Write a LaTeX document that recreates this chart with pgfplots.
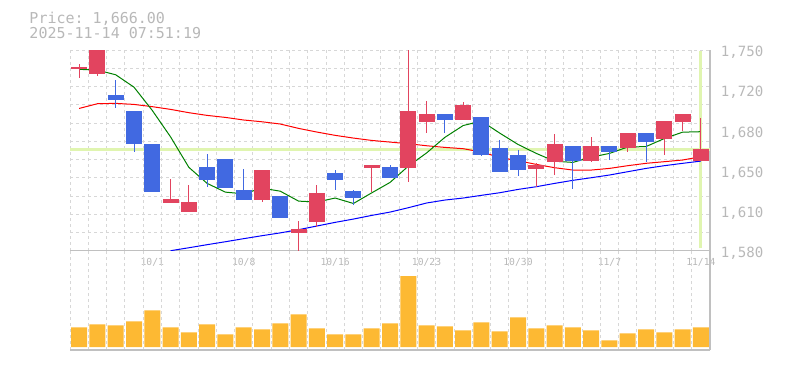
\documentclass[border=0pt]{standalone}
\usepackage{pgfplots}
\pgfplotsset{compat=1.18}
\usepackage{pgfplotstable}
\usepackage{fontspec}
\setmonofont{DejaVu Sans Mono}

\definecolor{cred}{RGB}{226,68,95}
\definecolor{cblue}{RGB}{65,105,225}
\definecolor{limec}{RGB}{224,245,176}
\definecolor{volc}{RGB}{253,185,51}
\definecolor{gridc}{RGB}{215,215,215}
\definecolor{axisc}{RGB}{192,192,192}
\definecolor{textc}{RGB}{184,184,184}

% x = trading day index (0 = 9/25 ... 34 = 11/14)
\pgfplotstableread{
x o h l c
0 1734 1738 1726 1736
1 1730 1750 1728 1750
5 1620 1641 1620 1624
6 1613 1636 1613 1621
10 1623 1648 1621 1648
12 1595 1605 1580 1598
13 1604 1636 1600 1629
16 1650 1653 1630 1653
18 1650 1750 1638 1698
19 1689 1707 1680 1696
21 1691 1706 1691 1703
25 1649 1654 1634 1653
26 1655 1679 1644 1670
28 1656 1676 1655 1669
30 1667 1680 1664 1680
32 1675 1690 1661 1690
33 1689 1696 1681 1696
34 1656 1692 1656 1666
}\upcandles

\pgfplotstableread{
x o h l c
2 1712 1725 1701 1708
3 1698 1698 1664 1670
4 1670 1670 1630 1630
7 1651 1662 1634 1640
8 1658 1658 1633 1633
9 1631 1649 1623 1623
11 1626 1626 1608 1608
14 1646 1648 1631 1640
15 1631 1631 1619 1625
17 1651 1653 1642 1642
20 1696 1696 1680 1691
22 1693 1693 1660 1661
23 1667 1674 1647 1647
24 1661 1665 1643 1648
27 1669 1669 1632 1656
29 1669 1669 1657 1664
31 1680 1680 1655 1672
}\downcandles

\pgfplotstableread{
x ma5 ma25
0 1733.6 1700.5
1 1733.0 1704.5
2 1729.0 1704.8
3 1718.5 1703.9
4 1698.8 1702.0
5 1676.4 1699.7
6 1650.6 1696.9
7 1637.0 1694.6
8 1629.6 1692.9
9 1628.2 1690.7
10 1633.0 1689.2
11 1630.4 1687.3
12 1622.0 1683.6
13 1621.2 1680.5
14 1624.6 1677.7
15 1620.0 1675.4
16 1629.0 1673.4
17 1637.8 1672.0
18 1651.6 1670.6
19 1662.8 1668.9
20 1676.0 1667.5
21 1686.0 1666.4
22 1689.8 1663.6
23 1679.6 1659.0
24 1670.0 1656.2
25 1662.4 1653.1
26 1655.8 1650.3
27 1654.8 1648.3
28 1659.2 1648.3
29 1662.4 1649.7
30 1667.8 1652.0
31 1668.2 1654.0
32 1675.0 1655.4
33 1680.4 1656.8
34 1680.8 1659.6
}\matable

\pgfplotstableread{
x ma75
5 1580.0
6 1582.5
7 1585.1
8 1587.6
9 1590.2
10 1592.7
11 1595.1
12 1597.8
13 1600.9
14 1604.0
15 1606.8
16 1609.9
17 1612.7
18 1616.4
19 1620.4
20 1622.9
21 1624.6
22 1626.9
23 1629.1
24 1631.9
25 1634.2
26 1637.0
27 1639.6
28 1641.8
29 1644.1
30 1646.9
31 1649.7
32 1652.0
33 1654.0
34 1655.9
}\maslow

\pgfplotstableread{
x v
0 59
1 68
2 65
3 77
4 110
5 59
6 44
7 68
8 38
9 59
10 53
11 71
12 98
13 56
14 38
15 38
16 56
17 71
18 213
19 65
20 62
21 50
22 74
23 47
24 89
25 56
26 65
27 59
28 50
29 20
30 41
31 53
32 44
33 53
34 59
}\voltable

\pgfplotsset{
  panel/.style={
    scale only axis, width=640bp,
    xmin=-0.5, xmax=34.5,
    grid style={draw=gridc, dash pattern=on 3bp off 3bp, line width=0.8bp},
    minor grid style={draw=gridc, dash pattern=on 3bp off 3bp, line width=0.8bp},
    major tick length=0pt, minor tick length=0pt,
    axis x line*=bottom, axis y line*=right,
    axis line style={draw=axisc, line width=1.2bp, -},
  },
}

\begin{document}
\begin{tikzpicture}[x=1bp,y=1bp]
\useasboundingbox (0,0) rectangle (785,370);

\node[anchor=base west, inner sep=0pt, text=textc, font=\ttfamily\fontsize{15bp}{18bp}\selectfont] at (29.3,346.7) {Price: 1,666.00};
\node[anchor=base west, inner sep=0pt, text=textc, font=\ttfamily\fontsize{15bp}{18bp}\selectfont] at (29.3,331.7) {2025-11-14 07:51:19};

% price panel
\begin{axis}[panel,
  at={(70bp,119.3bp)}, anchor=south west, height=200.7bp,
  ymin=1580, ymax=1750,
  minor xtick={-0.5,0.5,...,34.5},
  xminorgrids,
  minor ytick={1580,1595.4545,1610.9091,1626.3636,1641.8182,1657.2727,1672.7273,1688.1818,1703.6364,1719.0909,1734.5455,1750},
  yminorgrids,
  xtick={4,9,14,19,24,29,34},
  xticklabels={10/1,10/8,10/16,10/23,10/30,11/7,11/14},
  xticklabel style={anchor=center, yshift=-11.3bp, inner sep=0pt, text=textc, font=\ttfamily\fontsize{9.7bp}{11bp}\selectfont},
  ytick={1580,1614,1648,1682,1716,1750},
  yticklabels={{1,580},{1,610},{1,650},{1,680},{1,720},{1,750}},
  yticklabel style={anchor=west, xshift=10.7bp, yshift=-2.5bp, inner sep=0pt, text=textc, font=\ttfamily\fontsize{14.1bp}{16bp}\selectfont},
]
\addplot[limec, line width=3.3bp, forget plot] coordinates {(-0.5,1666) (34.5,1666)};
\addplot[limec, line width=3bp, forget plot] coordinates {(34,1582) (34,1749)};

\addplot[red, line width=1bp, mark=none] table[x=x, y=ma25] {\matable};
\addplot[blue, line width=1bp, mark=none] table[x=x, y=ma75] {\maslow};
\addplot[black!50!green, line width=1bp, mark=none] table[x=x, y=ma5] {\matable};

% wicks
\addplot[forget plot, draw=none, mark=none, error bars/.cd, y dir=both, y explicit, error mark=none,
  error bar style={draw=cred, line width=1bp, solid}]
  table[x=x, y expr={(\thisrow{h}+\thisrow{l})/2}, y error expr={(\thisrow{h}-\thisrow{l})/2}] {\upcandles};
\addplot[forget plot, draw=none, mark=none, error bars/.cd, y dir=both, y explicit, error mark=none,
  error bar style={draw=cblue, line width=1bp, solid}]
  table[x=x, y expr={(\thisrow{h}+\thisrow{l})/2}, y error expr={(\thisrow{h}-\thisrow{l})/2}] {\downcandles};
% bodies
\addplot[forget plot, draw=none, mark=none, error bars/.cd, y dir=both, y explicit, error mark=none,
  error bar style={draw=cred, line width=16bp, solid}]
  table[x=x, y expr={(\thisrow{o}+\thisrow{c})/2}, y error expr={abs(\thisrow{c}-\thisrow{o})/2}] {\upcandles};
\addplot[forget plot, draw=none, mark=none, error bars/.cd, y dir=both, y explicit, error mark=none,
  error bar style={draw=cblue, line width=16bp, solid}]
  table[x=x, y expr={(\thisrow{o}+\thisrow{c})/2}, y error expr={abs(\thisrow{c}-\thisrow{o})/2}] {\downcandles};
\end{axis}

% volume panel
\begin{axis}[panel,
  at={(70bp,20bp)}, anchor=south west, height=99.3bp,
  ymin=-9, ymax=289, ytick=\empty,
  xtick={-0.5,0.5,...,34.5}, xticklabel=\empty,
  xmajorgrids,
]
\addplot[ybar, bar width=16bp, fill=volc, draw=none] table[x=x, y=v] {\voltable};
\end{axis}
\end{tikzpicture}
\end{document}
